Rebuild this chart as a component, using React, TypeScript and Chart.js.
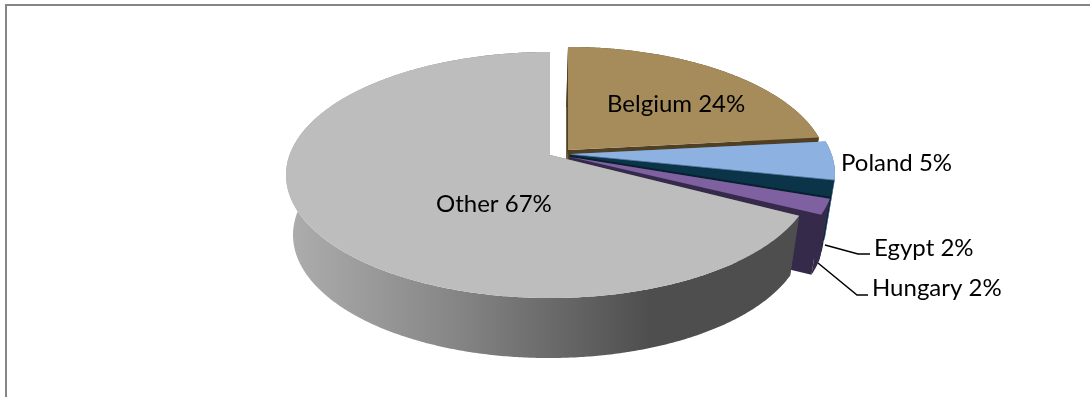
import React, { useEffect, useRef } from "react";
import { Chart, PieController, ArcElement, registerables } from "chart.js";

Chart.register(...registerables);

const categories = ["Belgium", "Poland", "Egypt", "Hungary", "Other"];
const shares = [24, 5, 2, 2, 67];

const topColors = ["#A68C5B", "#8DB1E0", "#0B3449", "#7F60A0", "#BDBDBD"];
const sideColors = ["#4F4023", "#4A6A92", "#06222F", "#362A4A", "#666666"];

// Pie apex of each slice on the canvas; the slices are pulled away from the centre.
const apexX = [568, 571, 570, 570, 550];
const apexY = [150, 154, 155, 157, 155];
const radiusScale = [0.985, 1, 1, 1, 1];
const skewDegrees = [2.5, 2.5, 2.5, 2.5, 1];

// Perspective of the disc.
const RADIUS_X = 260.5;
const RADIUS_Y = 119.8;
const TILT = 0.1625;
const VANISH_X = 510;
const DEPTH = 60;
const DEPTH_SHRINK = 0.9687;

type Pt = { x: number; y: number };

const rimPoint = (i: number, angle: number): Pt => {
  // Views from the side pull the front-right arcs slightly towards the back.
  const a = angle - ((skewDegrees[i] * Math.PI) / 180) * Math.cos(angle);
  const u = Math.cos(a);
  const v = Math.sin(a);
  const s = 1 / (1 - TILT * v);
  return {
    x: apexX[i] + radiusScale[i] * RADIUS_X * u * s,
    y: apexY[i] + RADIUS_Y * v * s,
  };
};

const lower = (p: Pt): Pt => ({
  x: VANISH_X + DEPTH_SHRINK * (p.x - VANISH_X),
  y: p.y + DEPTH,
});

const sweep = (i: number, a0: number, a1: number): Pt[] => {
  const steps = Math.max(2, Math.ceil((a1 - a0) * 120));
  const pts: Pt[] = [];
  for (let k = 0; k <= steps; k++) pts.push(rimPoint(i, a0 + ((a1 - a0) * k) / steps));
  return pts;
};

const fillPoly = (ctx: CanvasRenderingContext2D, pts: Pt[], fill: string | CanvasGradient) => {
  ctx.beginPath();
  pts.forEach((p, k) => (k ? ctx.lineTo(p.x, p.y) : ctx.moveTo(p.x, p.y)));
  ctx.closePath();
  ctx.fillStyle = fill;
  ctx.fill();
};

// Pie controller that keeps the library's arc angles and paints them as a tilted solid.
class Pie3DController extends PieController {
  draw() {
    const ctx = this.chart.ctx;
    const arcs = this.getMeta().data as unknown as ArcElement[];
    arcs.forEach((arc: any, i: number) => {
      const a0 = arc.startAngle;
      const a1 = arc.endAngle;
      const apex = { x: apexX[i], y: apexY[i] };
      const rim = sweep(i, a0, a1);
      const first = rim[0];
      const last = rim[rim.length - 1];

      let sideFill: string | CanvasGradient = sideColors[i];
      if (i === 4) {
        const g = ctx.createLinearGradient(290, 0, 800, 0);
        g.addColorStop(0, "#ADADAD");
        g.addColorStop(0.314, "#878787");
        g.addColorStop(0.549, "#656565");
        g.addColorStop(0.706, "#4E4E4E");
        g.addColorStop(1, "#4E4E4E");
        sideFill = g;
      }

      // cut faces
      fillPoly(ctx, [apex, first, lower(first), lower(apex)], sideFill);
      fillPoly(ctx, [apex, last, lower(last), lower(apex)], sideFill);
      // outer wall
      fillPoly(ctx, [...rim, ...rim.map(lower).reverse()], sideFill);
      // top face
      fillPoly(ctx, [apex, ...rim], topColors[i]);
    });
  }
}
(Pie3DController as any).id = "pie3d";
(Pie3DController as any).defaults = PieController.defaults;
(Pie3DController as any).overrides = PieController.overrides;
Chart.register(Pie3DController as any);

const FONT = '24px Lato, "Noto Sans", sans-serif';

const labelX = [607, 841, 874, 872, 436];
const labelY = [104, 163, 248, 288, 204];

const leaders: Record<number, [number, number][]> = {
  2: [[825, 245], [858, 254], [870, 254]],
  3: [[818, 263], [857, 295], [868, 295]],
};

const annotations = {
  id: "annotations",
  beforeDatasetsDraw(chart: Chart) {
    const { ctx, width, height } = chart;
    ctx.save();
    ctx.strokeStyle = "#868686";
    ctx.lineWidth = 2;
    ctx.beginPath();
    ctx.moveTo(6, height);
    ctx.lineTo(6, 5);
    ctx.lineTo(width, 5);
    ctx.stroke();
    ctx.restore();
  },
  afterDatasetsDraw(chart: Chart) {
    const { ctx } = chart;
    ctx.save();
    ctx.strokeStyle = "#000000";
    ctx.lineWidth = 1.5;
    Object.values(leaders).forEach((line) => {
      ctx.beginPath();
      line.forEach(([x, y], k) => (k ? ctx.lineTo(x, y) : ctx.moveTo(x, y)));
      ctx.stroke();
    });
    ctx.fillStyle = "#000000";
    ctx.font = FONT;
    ctx.textBaseline = "middle";
    ctx.textAlign = "left";
    categories.forEach((name, i) => {
      ctx.fillText(`${name} ${shares[i]}%`, labelX[i], labelY[i]);
    });
    ctx.restore();
  },
};

export default function App() {
  const ref = useRef<HTMLCanvasElement>(null);
  useEffect(() => {
    const chart = new Chart(ref.current!, {
      type: "pie3d" as any,
      data: {
        labels: categories,
        datasets: [{ data: shares, backgroundColor: topColors, borderWidth: 0 }],
      },
      options: {
        responsive: false,
        animation: false,
        plugins: { legend: { display: false }, tooltip: { enabled: false } },
      },
      plugins: [annotations],
    });
    return () => chart.destroy();
  }, []);
  return (
    <canvas
      ref={ref}
      width={1090}
      height={397}
      style={{ position: "fixed", left: 0, top: 0, width: 1090, height: 397, background: "#FFFFFF" }}
    />
  );
}
